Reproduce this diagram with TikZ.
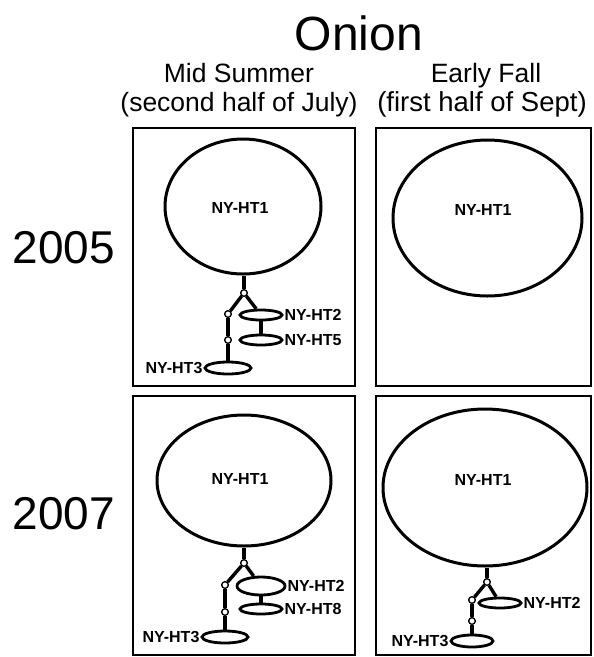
\documentclass[tikz,border=0pt]{standalone}
\usepackage{fontspec}
\setmainfont{Liberation Sans}
\usetikzlibrary{shapes.geometric}

\tikzset{
  panel/.style={draw, line width=2pt},
  bigcluster/.style={draw, ellipse, line width=3pt, inner sep=0pt},
  hap/.style={draw, ellipse, line width=2.8pt, inner sep=0pt},
  junc/.style={circle, draw, fill=white, line width=1.2pt, minimum size=6.5pt, inner sep=0pt},
  link/.style={line width=3.4pt},
  hlabel/.style={font=\bfseries\fontsize{16}{18}\selectfont, inner sep=1pt},
  title/.style={font=\fontsize{48}{50}\selectfont, inner sep=0pt},
  season/.style={font=\fontsize{26.5}{28}\selectfont, inner sep=0pt, anchor=base},
  year/.style={font=\fontsize{46}{48}\selectfont, inner sep=0pt}
}

\begin{document}
\begin{tikzpicture}[x=1pt, y=1pt]
\useasboundingbox (0,0) rectangle (594,-657);

% headings
\node[title] (onion) at (359,-33) {Onion};
\node[season] (ms) at (239,-82) {Mid Summer};
\node[season] (msd) at (239,-111) {(second half of July)};
\node[season] (ef) at (486,-82) {Early Fall};
\node[season, font=\fontsize{27.5}{29}\selectfont] (efd) at (482,-111) {(first half of Sept)};
\node[year] (y05) at (64,-248) {2005};
\node[year] (y07) at (64,-514) {2007};

% panels
\draw[panel] (133,-128) rectangle (355,-386);
\draw[panel] (376,-128) rectangle (591,-386);
\draw[panel] (133,-396) rectangle (355,-655);
\draw[panel] (376,-396) rectangle (591,-655);

% 2005, mid summer
\node[bigcluster, minimum width=156pt, minimum height=135pt] (a1) at (243,-206.5) {};
\node[hlabel] at (240,-208) {NY-HT1};
\node[junc] (aj1) at (244,-293) {};
\node[junc] (aj2) at (228,-314) {};
\node[junc] (aj3) at (228,-340) {};
\node[hap, minimum width=42pt, minimum height=10pt] (a2) at (261,-315) {};
\node[hap, minimum width=42pt, minimum height=10pt] (a5) at (261,-340) {};
\node[hap, minimum width=46pt, minimum height=12pt] (a3) at (228,-368) {};
\node[hlabel, anchor=west] at (a2.east) {NY-HT2};
\node[hlabel, anchor=west] at (a5.east) {NY-HT5};
\node[hlabel, anchor=east] at (a3.west) {NY-HT3};
\draw[link] (aj1 |- a1.south) -- (aj1);
\draw[link] (aj1) -- (a2);
\draw[link] (aj1) -- (aj2);
\draw[link] (aj2) -- (aj3);
\draw[link] (aj3) -- (a3.north);
\draw[link] (a2.south) -- (a5.north);

% 2005, early fall
\node[bigcluster, minimum width=189pt, minimum height=156pt] (b1) at (487.5,-218) {};
\node[hlabel] at (483,-210) {NY-HT1};

% 2007, mid summer
\node[bigcluster, minimum width=174pt, minimum height=131pt] (c1) at (244,-480.5) {};
\node[hlabel] at (240,-479) {NY-HT1};
\node[junc] (cj1) at (244,-563) {};
\node[junc] (cj2) at (225,-585) {};
\node[junc] (cj3) at (225,-612) {};
\node[hap, minimum width=48pt, minimum height=18pt] (c2) at (261,-586) {};
\node[hap, minimum width=42pt, minimum height=10pt] (c8) at (261,-609) {};
\node[hap, minimum width=46pt, minimum height=12pt] (c3) at (225,-637) {};
\node[hlabel, anchor=west] at (c2.east) {NY-HT2};
\node[hlabel, anchor=west] at (c8.east) {NY-HT8};
\node[hlabel, anchor=east] at (c3.west) {NY-HT3};
\draw[link] (cj1 |- c1.south) -- (cj1);
\draw[link] (cj1) -- (c2);
\draw[link] (cj1) -- (cj2);
\draw[link] (cj2) -- (cj3);
\draw[link] (cj3) -- (c3.north);
\draw[link] (c2.south) -- (c8.north);

% 2007, early fall
\node[bigcluster, minimum width=204pt, minimum height=157pt] (d1) at (485,-487.5) {};
\node[hlabel] at (483,-480) {NY-HT1};
\node[junc] (dj1) at (487,-582) {};
\node[junc] (dj2) at (472,-600) {};
\node[junc] (dj3) at (472,-621) {};
\node[hap, minimum width=42pt, minimum height=10pt] (d2) at (500,-603) {};
\node[hap, minimum width=42pt, minimum height=12pt] (d3) at (472,-641) {};
\node[hlabel, anchor=west] at (d2.east) {NY-HT2};
\node[hlabel, anchor=east] at (d3.west) {NY-HT3};
\draw[link] (dj1 |- d1.south) -- (dj1);
\draw[link] (dj1) -- (d2);
\draw[link] (dj1) -- (dj2);
\draw[link] (dj2) -- (dj3);
\draw[link] (dj3) -- (d3.north);

% redraw junction dots above the links
\foreach \j in {aj1,aj2,aj3,cj1,cj2,cj3,dj1,dj2,dj3}
  \node[junc] at (\j) {};
\end{tikzpicture}
\end{document}
